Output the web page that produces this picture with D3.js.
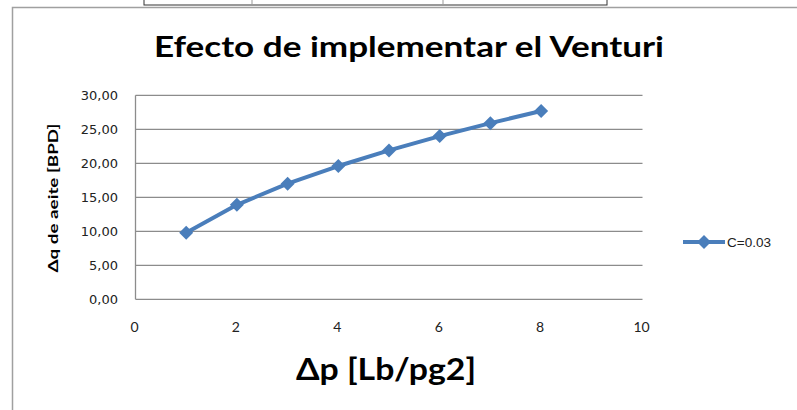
<!DOCTYPE html>
<html><head><meta charset="utf-8">
<script src="https://cdn.jsdelivr.net/npm/d3@7"></script>
<style>body{margin:0;background:#fff}svg{display:block}</style>
</head><body>
<svg id="c" width="797" height="410"></svg>
<script>
const xValues = [1, 2, 3, 4, 5, 6, 7, 8];
const yValues = [9.8, 13.9, 17.0, 19.6, 21.9, 24.0, 25.9, 27.7];
const xTicks = [0, 2, 4, 6, 8, 10];
const yTicks = [0, 5, 10, 15, 20, 25, 30];
const seriesName = "C=0.03";
const title = "Efecto de implementar el Venturi";
const xTitle = "Δp [Lb/pg2]";
const yTitle = "Δq de aeite [BPD]";

const svg = d3.select("#c");
const blue = "#4a7ebb";
const grid = "#8c8c8c";

// top table remnant
svg.append("rect").attr("x",144).attr("y",-2).attr("width",463).attr("height",7)
  .attr("fill","none").attr("stroke","#333").attr("stroke-width",1);
[252,443].forEach(x=>svg.append("line").attr("x1",x).attr("x2",x).attr("y1",0).attr("y2",5).attr("stroke","#999"));

// chart frame
svg.append("rect").attr("x",12.5).attr("y",7.5).attr("width",800).attr("height",420)
  .attr("fill","#fff").attr("stroke","#a0a0a0").attr("stroke-width",1.5);

const x = d3.scaleLinear().domain([0,10]).range([135.5,642.5]);
const y = d3.scaleLinear().domain([0,30]).range([299.3,95.3]);

// gridlines
svg.append("g").selectAll("line").data(yTicks).join("line")
  .attr("x1",x(0)).attr("x2",x(10)).attr("y1",d=>y(d)).attr("y2",d=>y(d))
  .attr("stroke",grid).attr("stroke-width",1.3);
svg.append("line").attr("x1",x(0)).attr("x2",x(0)).attr("y1",y(30)).attr("y2",y(0))
  .attr("stroke",grid).attr("stroke-width",1.3);

// y axis labels
const fmt = d => d3.format(".2f")(d).replace(".", ",");
svg.append("g").selectAll("text").data(yTicks).join("text")
  .attr("x",118).attr("y",d=>y(d)).attr("dy","0.35em").attr("text-anchor","end")
  .attr("font-family","DejaVu Sans").attr("font-size",13).attr("fill","#222")
  .text(fmt);

// x axis labels
svg.append("g").selectAll("text").data(xTicks).join("text")
  .attr("x",d=>x(d)-1).attr("y",327).attr("dy","0.35em").attr("text-anchor","middle")
  .attr("font-family","Lato").attr("font-size",14).attr("fill","#222")
  .text(d=>d);

// titles
svg.append("text").attr("x",409).attr("y",47).attr("dy","0.35em").attr("text-anchor","middle")
  .attr("font-family","Lato").attr("font-weight","bold").attr("font-size",29)
  .attr("textLength",510).attr("lengthAdjust","spacingAndGlyphs").attr("fill","#000").text(title);
svg.append("text").attr("x",386).attr("y",369).attr("dy","0.35em").attr("text-anchor","middle")
  .attr("font-family","Lato").attr("font-weight","bold").attr("font-size",30)
  .attr("textLength",180).attr("lengthAdjust","spacingAndGlyphs").attr("fill","#000").text(xTitle);
svg.append("text").attr("transform","translate(54,198) rotate(-90)").attr("dy","0.35em")
  .attr("text-anchor","middle").attr("font-family","Lato").attr("font-weight","bold")
  .attr("font-size",12.5).attr("textLength",149).attr("lengthAdjust","spacingAndGlyphs")
  .attr("fill","#000").text(yTitle);

// series
const pts = xValues.map((v,i)=>[v,yValues[i]]);
svg.append("path").datum(pts)
  .attr("d", d3.line().x(d=>x(d[0])).y(d=>y(d[1])))
  .attr("fill","none").attr("stroke",blue).attr("stroke-width",4).attr("stroke-linejoin","round");
const diamond = d3.symbol().type(d3.symbolSquare).size(98);
svg.append("g").selectAll("path").data(pts).join("path")
  .attr("transform",d=>`translate(${x(d[0])},${y(d[1])}) rotate(45)`)
  .attr("d",diamond).attr("fill",blue);

// legend
svg.append("line").attr("x1",683).attr("x2",725).attr("y1",242).attr("y2",242)
  .attr("stroke",blue).attr("stroke-width",4);
svg.append("path").attr("transform","translate(704,242) rotate(45)").attr("d",diamond).attr("fill",blue);
svg.append("text").attr("x",727).attr("y",242).attr("dy","0.35em")
  .attr("font-family","Liberation Sans").attr("font-size",13.5).attr("fill","#222").text(seriesName);
</script>
</body></html>
